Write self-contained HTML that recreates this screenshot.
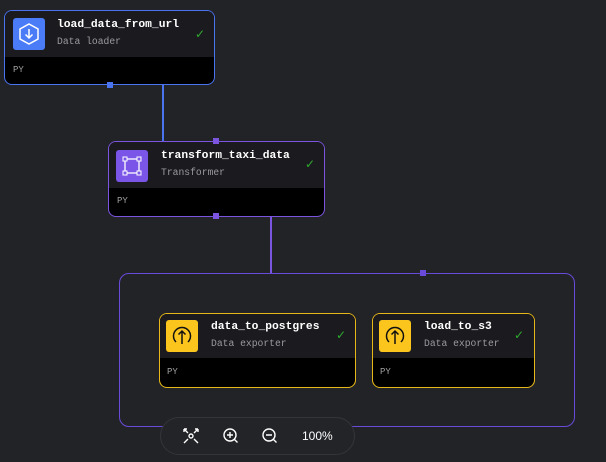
<!DOCTYPE html>
<html><head><style>
body{margin:0;width:606px;height:462px;background:#222327;position:relative;overflow:hidden;font-family:"Liberation Mono",monospace}
.n{position:absolute;box-sizing:border-box;border:1px solid;border-radius:8px;background:#000;overflow:hidden}
.h{position:absolute;left:0;right:0;top:0;background:#1b1b1f}
.ic{position:absolute;width:32px;height:32px;border-radius:3px}
.t{position:absolute;color:#fff;font-weight:bold;font-size:11.3px}
.s{position:absolute;color:#9a9aa0;font-size:9.7px}
.py{position:absolute;color:#a0a0a0;font-size:9px}
.ck{position:absolute;color:#2faa2f;font-size:12px;font-family:"DejaVu Sans",sans-serif}
.p{position:absolute;width:6px;height:6px}
</style></head><body>
<div style="position:absolute;left:162px;top:85px;width:1.5px;height:57px;background:#4a73f0"></div>
<div style="position:absolute;left:270px;top:216px;width:1.5px;height:58px;background:#7b55e0"></div>
<div style="position:absolute;left:119px;top:273px;width:456px;height:154px;box-sizing:border-box;border:1px solid #6a4ad8;border-radius:10px"></div>
<div class="p" style="left:420px;top:270px;background:#6a4ad8"></div>

<div class="n" style="left:4px;top:10px;width:211px;height:75px;border-color:#4a73f0">
<div class="h" style="height:46px"></div>
<div class="ic" style="left:8px;top:7px;background:#4a7cf7"><svg width="32" height="32"><polygon points="16,6 25,11 25,21 16,26 7,21 7,11" fill="none" stroke="#fff" stroke-width="1.5"/><path d="M16 11v9M12.5 16.5l3.5 3.5 3.5-3.5" fill="none" stroke="#fff" stroke-width="1.5"/></svg></div>
<div class="t" style="left:52px;top:8px">load_data_from_url</div>
<div class="s" style="left:52px;top:25px">Data loader</div>
<div class="ck" style="left:190px;top:16px">✓</div>
<div class="py" style="left:8px;top:54px">PY</div>
</div>
<div class="p" style="left:107px;top:82px;background:#4a73f0"></div>

<div class="n" style="left:108px;top:141px;width:217px;height:76px;border-color:#7b55e0">
<div class="h" style="height:46px"></div>
<div class="ic" style="left:7px;top:8px;background:#7b55e8"><svg width="32" height="32"><rect x="9" y="9" width="14" height="14" fill="none" stroke="#fff" stroke-width="1.3"/><g fill="#7b55e8" stroke="#fff" stroke-width="1"><rect x="7" y="7" width="4" height="4"/><rect x="21" y="7" width="4" height="4"/><rect x="7" y="21" width="4" height="4"/><rect x="21" y="21" width="4" height="4"/></g></svg></div>
<div class="t" style="left:52px;top:8px">transform_taxi_data</div>
<div class="s" style="left:52px;top:25px">Transformer</div>
<div class="ck" style="left:196px;top:15px">✓</div>
<div class="py" style="left:8px;top:54px">PY</div>
</div>
<div class="p" style="left:213px;top:138px;background:#7b55e0"></div>
<div class="p" style="left:213px;top:213px;background:#7b55e0"></div>

<div class="n" style="left:159px;top:313px;width:197px;height:75px;border-color:#e8b81a">
<div class="h" style="height:44px"></div>
<div class="ic" style="left:6px;top:6px;background:#fcc51e"><svg width="32" height="32"><path d="M10 22A8.5 8.5 0 1 1 22 22" fill="none" stroke="#111" stroke-width="1.5"/><path d="M16 24V11M12.5 14.5L16 11l3.5 3.5" fill="none" stroke="#111" stroke-width="1.5"/></svg></div>
<div class="t" style="left:51px;top:7px">data_to_postgres</div>
<div class="s" style="left:51px;top:24px">Data exporter</div>
<div class="ck" style="left:176px;top:14px">✓</div>
<div class="py" style="left:7px;top:53px">PY</div>
</div>

<div class="n" style="left:372px;top:313px;width:163px;height:75px;border-color:#e8b81a">
<div class="h" style="height:44px"></div>
<div class="ic" style="left:6px;top:6px;background:#fcc51e"><svg width="32" height="32"><path d="M10 22A8.5 8.5 0 1 1 22 22" fill="none" stroke="#111" stroke-width="1.5"/><path d="M16 24V11M12.5 14.5L16 11l3.5 3.5" fill="none" stroke="#111" stroke-width="1.5"/></svg></div>
<div class="t" style="left:51px;top:7px">load_to_s3</div>
<div class="s" style="left:51px;top:24px">Data exporter</div>
<div class="ck" style="left:141px;top:14px">✓</div>
<div class="py" style="left:7px;top:53px">PY</div>
</div>

<div style="position:absolute;left:160px;top:417px;width:195px;height:38px;box-sizing:border-box;border:1px solid #34353a;border-radius:19px;background:#232428"></div>
<svg style="position:absolute;left:180px;top:426px" width="110" height="20">
<g stroke="#fff" stroke-width="1.4" fill="none">
<circle cx="11" cy="10" r="2"/><path d="M4 3l4 4M18 3l-4 4M4 17l4-4M18 17l-4-4M4 3h3M4 3v3M18 3h-3M18 3v3"/>
<circle cx="50" cy="9" r="6"/><path d="M50 6v6M47 9h6M54.5 13.5l3 3"/>
<circle cx="89" cy="9" r="6"/><path d="M86 9h6M93.5 13.5l3 3"/>
</g></svg>
<div style="position:absolute;left:302px;top:429px;color:#fff;font-family:'Liberation Sans',sans-serif;font-size:12px">100%</div>
</body></html>
